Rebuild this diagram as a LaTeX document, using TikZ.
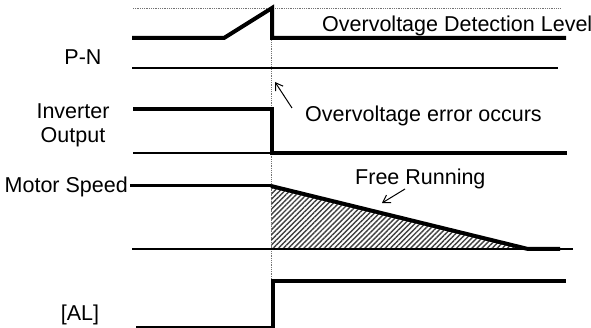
\documentclass[tikz,border=0pt]{standalone}
\usepackage{fontspec}
\setmainfont{Liberation Sans}
\usetikzlibrary{arrows.meta,positioning,patterns.meta}

\begin{document}
\begin{tikzpicture}[x=1pt, y=-1pt,
      sig/.style={line width=4pt},
      zero/.style={line width=2.2pt},
      guide/.style={densely dotted, line width=0.8pt, black!55},
      lbl/.style={font=\fontsize{21.5}{24}\selectfont, inner sep=0pt, anchor=base},
      arr/.style={-{Straight Barb[length=7pt,width=9pt]}, line width=1pt},
      hatch/.style={pattern={Lines[angle=45,distance=3.6pt,line width=1.4pt]}, pattern color=black!75}
    ]
      \useasboundingbox (0,0) rectangle (591,328);

      % hatched area under the coasting speed
      \fill[hatch] (271,186) -- (528,249) -- (271,249) -- cycle;

      % guides
      \draw[guide] (133,8) -- (560,8);
      \draw[guide] (271,8) -- (271,328);

      % labels
      \node[lbl] (pn) at (83,65) {P-N};
      \node[lbl, align=center] (inv) at (73,143) {Inverter\\Output};
      \node[lbl, anchor=base east] (speed) at (128,193) {Motor Speed};
      \node[lbl] (al) at (80,320) {[AL]};
      \node[lbl, anchor=base west] (level) at (322,32) {Overvoltage Detection Level};
      \node[lbl, anchor=base west] (err) at (305,122) {Overvoltage error occurs};
      \node[lbl, anchor=base west] (free) at (355,185) {Free Running};

      % P-N
      \draw[zero] (132,68) -- (558,68);
      \draw[sig] (132,38) -- (224,38) -- (272,8) -- (272,38) -- (566,38);

      % inverter output
      \draw[zero] (133,153) -- (272,153);
      \draw[sig] (133,109) -- (272,109) -- (272,153) -- (567,153);

      % motor speed
      \draw[zero] (132,249) -- (573,249);
      \draw[line width=3pt] (130,186) -- (271,186);
      \draw[sig] (271,186) -- (528,249) -- (560,249);

      % alarm
      \draw[zero] (136,327) -- (273,327);
      \draw[sig] (273,328) -- (273,281) -- (566,281);

      % pointers
      \coordinate (errtail) at (292,108);
      \coordinate (errtip) at (275,82);
      \coordinate (freetail) at (405,189);
      \coordinate (freetip) at (382,203);
      \draw[arr] (errtail) -- (errtip);
      \draw[arr] (freetail) -- (freetip);
    \end{tikzpicture}
\end{document}
